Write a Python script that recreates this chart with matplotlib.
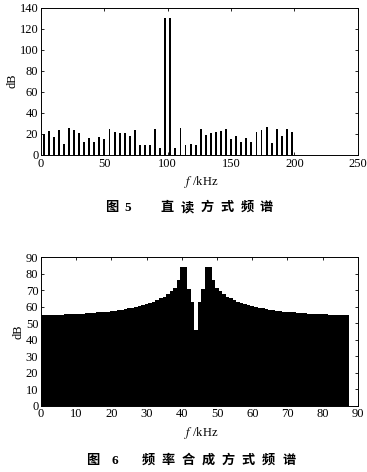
import numpy as np
import matplotlib
matplotlib.use("Agg")
import matplotlib.pyplot as plt

plt.rcParams['font.family'] = ['Liberation Serif', 'Noto Sans CJK SC']
plt.rcParams['mathtext.fontset'] = 'stix'

# Fig 5: direct readout spectrum, one line every 4 kHz
freq5 = np.arange(2, 200, 4)
db5 = [20, 23, 17, 24, 10, 25.5, 24, 20.5, 12, 16,
       12, 16.5, 15, 25, 22, 21, 21, 18, 24, 9,
       9.5, 9, 25, 6.5, 130, 130, 6.5, 25.5, 9.5, 10.5,
       9.5, 24.5, 19, 21, 21.5, 22.5, 25, 15.5, 17.5, 12.5,
       16, 12.5, 21.5, 24, 26.5, 11, 25, 18, 24.5, 21.5]

# Fig 6: frequency synthesis spectrum, 1 kHz bins
freq6 = np.arange(0, 88)
db6 = [55.0, 55.0, 55.0, 55.0, 55.1, 55.1, 55.2, 55.3, 55.4, 55.5,
       55.6, 55.7, 55.8, 56.0, 56.1, 56.3, 56.5, 56.7, 56.9, 57.1,
       57.4, 57.7, 58.0, 58.3, 58.7, 59.1, 59.5, 60.0, 60.4, 60.9,
       61.5, 62.2, 63.0, 64.0, 65.0, 66.0, 67.5, 69.5, 71.5, 76.0,
       84.0, 84.0, 71.0, 63.0, 46.0, 63.0, 71.0, 84.0, 84.0, 76.0,
       71.5, 69.5, 67.5, 66.0, 65.0, 64.0, 63.0, 62.2, 61.5, 60.9,
       60.4, 60.0, 59.5, 59.1, 58.7, 58.3, 58.0, 57.7, 57.4, 57.1,
       56.9, 56.7, 56.5, 56.3, 56.1, 56.0, 55.8, 55.7, 55.6, 55.5,
       55.4, 55.3, 55.2, 55.1, 55.1, 55.0, 55.0, 55.0]

caption5 = ["图", "5", "直", "读", "方", "式", "频", "谱"]
caption6 = ["图", "6", "频", "率", "合", "成", "方", "式", "频", "谱"]

fig = plt.figure(figsize=(3.67, 4.72), dpi=100)
W, H = 367.0, 472.0

ax1 = fig.add_axes([0.112, 0.672, 0.863, 0.312])
ax1.bar(freq5, db5, width=1.5, color='black')
ax1.set_xlim(0, 250)
ax1.set_ylim(0, 140)
ax1.set_xticks([0, 50, 100, 150, 200, 250])
ax1.set_yticks(range(0, 141, 20))
ax1.set_ylabel("dB", fontsize=9, labelpad=1)

ax2 = fig.add_axes([0.112, 0.1405, 0.863, 0.3145])
ax2.bar(freq6, db6, width=1.0, color='black')
ax2.set_xlim(0, 90)
ax2.set_ylim(0, 90)
ax2.set_xticks(range(0, 91, 10))
ax2.set_yticks(range(0, 91, 10))
ax2.set_ylabel("dB", fontsize=9, labelpad=1)

for ax in (ax1, ax2):
    ax.tick_params(direction='in', top=True, right=True, labelsize=9,
                   length=2.5, width=0.6, pad=2)
    for s in ax.spines.values():
        s.set_linewidth(0.7)

fig.text(0.548, 1 - 182 / H, r"$f$ /kHz", ha='center', va='center', fontsize=9)
fig.text(0.548, 1 - 433 / H, r"$f$ /kHz", ha='center', va='center', fontsize=9)

# captions, one glyph at a time (wide letter spacing as in the print)
xs5 = [112, 128, 167, 187, 207, 227, 247, 266]
for ch, x in zip(caption5, xs5):
    fig.text(x / W, 1 - 208 / H, ch, ha='center', va='center', fontsize=9.5,
             fontweight='bold')
xs6 = [93, 115, 148, 168, 188, 208, 228, 248, 268, 289]
for ch, x in zip(caption6, xs6):
    fig.text(x / W, 1 - 461 / H, ch, ha='center', va='center', fontsize=9.5,
             fontweight='bold')

fig.savefig("out.png", dpi=100)
